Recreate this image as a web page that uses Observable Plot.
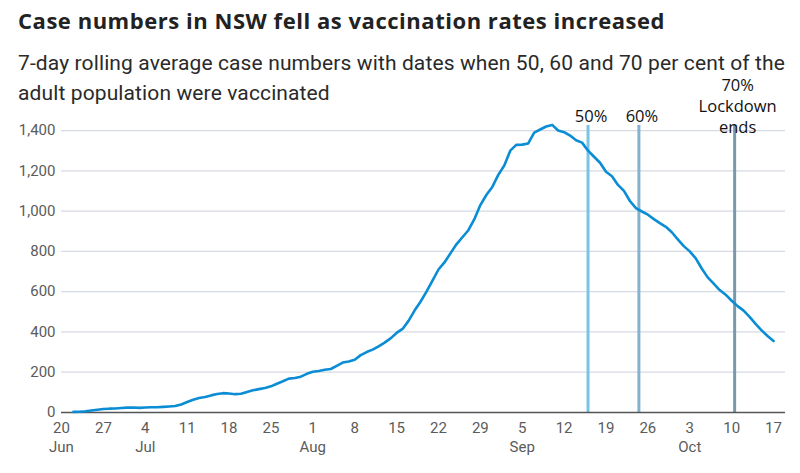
<!DOCTYPE html>
<html>
<head>
<meta charset="utf-8">
<script src="https://cdn.jsdelivr.net/npm/d3@7"></script>
<script src="https://cdn.jsdelivr.net/npm/@observablehq/plot@0.6"></script>
<style>
  html, body { margin: 0; padding: 0; background: #fff; }
  #wrap { position: relative; width: 800px; height: 473px; overflow: hidden; }
  #head { position: absolute; left: 18px; top: 0; z-index: 2; pointer-events: none; }
  #title { position: absolute; top: 6px; left: 0; white-space: nowrap; font-family: 'Open Sans', sans-serif; font-weight: 700; font-size: 22px; line-height: 28px; color: #222; }
  #sub { position: absolute; top: 48px; left: 0; font-family: Roboto, sans-serif; font-size: 21px; line-height: 30px; color: #2a2a2a; }
  #sub span { display: inline-block; white-space: nowrap; }
  #chart { position: absolute; left: 0; top: 60px; }
</style>
</head>
<body>
<div id="wrap">
  <div id="head">
    <div id="title"><span id="t1">Case numbers in NSW fell as vaccination rates increased</span></div>
    <div id="sub"><span id="s1">7-day rolling average case numbers with dates when 50, 60 and 70 per cent of the</span><br><span id="s2">adult population were vaccinated</span></div>
  </div>
  <div id="chart"></div>
</div>
<script>
// 7-day rolling average, one value per day starting 22 June 2021
const startDate = "2021-06-22";
const cases = [
  3, 4, 6, 10, 14, 17, 19, 20, 22,            // Jun 22-30
  24, 25, 23, 25, 26, 26, 28, 30, 32, 40,     // Jul 1-10
  52, 63, 72, 77, 85, 92, 96, 94, 91, 93,     // Jul 11-20
  102, 110, 116, 122, 130, 143, 155, 168, 171, 178, 192, // Jul 21-31
  202, 206, 212, 216, 232, 248, 253, 262, 285, 300,      // Aug 1-10
  312, 328, 347, 368, 395, 415, 455, 506, 550, 600,      // Aug 11-20
  655, 710, 745, 790, 835, 870, 905, 960, 1030, 1080, 1120, // Aug 21-31
  1180, 1226, 1300, 1329, 1330, 1336, 1390, 1405, 1420, 1428, // Sep 1-10
  1400, 1392, 1375, 1352, 1340, 1300, 1270, 1240, 1195, 1173, // Sep 11-20
  1130, 1100, 1050, 1015, 998, 982, 960, 940, 922, 895,       // Sep 21-30
  860, 826, 800, 765, 715, 671, 640, 608, 585, 555,           // Oct 1-10
  528, 506, 475, 440, 408, 380, 355                           // Oct 11-17
];
const markerDates = ["2021-09-16T00:00Z", "2021-09-24T12:00Z", "2021-10-10T12:00Z"];
const markerLabels = ["50%", "60%", "70%\nLockdown\nends"];
const markerColors = ["#78c4e6", "#84b2cd", "#7898ad"];
const yTicks = [0, 200, 400, 600, 800, 1000, 1200, 1400];
const xTickDates = ["2021-06-20","2021-06-27","2021-07-04","2021-07-11","2021-07-18","2021-07-25",
  "2021-08-01","2021-08-08","2021-08-15","2021-08-22","2021-08-29","2021-09-05","2021-09-12",
  "2021-09-19","2021-09-26","2021-10-03","2021-10-10","2021-10-17"];
const monthLabelDates = ["2021-06-20","2021-07-04","2021-08-01","2021-09-05","2021-10-03"];
const xDomain = ["2021-06-20", "2021-10-19"];

const parse = d3.utcParse("%Y-%m-%d");
const s0 = parse(startDate);
const data = cases.map((v, i) => ({date: d3.utcDay.offset(s0, i), value: v}));
const markers = markerDates.map((d, i) => ({date: new Date(d), label: markerLabels[i], color: markerColors[i]}));
const xTicks = xTickDates.map(parse);
const monthSet = new Set(monthLabelDates);
const fmtDay = d3.utcFormat("%-d");
const fmtMon = d3.utcFormat("%b");
const fmtKey = d3.utcFormat("%Y-%m-%d");

const labelFont = {fontSize: 16.5, fill: "#111", fontFamily: "'Open Sans', sans-serif", lineHeight: 1.28};

const chart = Plot.plot({
  width: 800,
  height: 413,
  marginTop: 65,
  marginBottom: 61,
  marginLeft: 61,
  marginRight: 15,
  style: {fontFamily: "Roboto, sans-serif", fontSize: "15px", color: "#5b5b5b", background: "transparent"},
  x: {type: "utc", domain: xDomain.map(parse)},
  y: {domain: [0, 1425]},
  marks: [
    Plot.gridY(yTicks.filter(d => d > 0), {stroke: "#d6dae2", strokeOpacity: 1, strokeWidth: 1.2}),
    Plot.axisY(yTicks, {tickSize: 0, tickPadding: 6, tickFormat: d3.format(","), label: null, fontSize: 15}),
    Plot.axisX(xTicks, {tickSize: 0, tickPadding: 7, label: null, fontSize: 15, lineHeight: 1.27,
      tickFormat: d => fmtDay(d) + (monthSet.has(fmtKey(d)) ? "\n" + fmtMon(d) : "")}),
    Plot.ruleX(markers, {x: "date", stroke: "color", strokeWidth: 3}),
    Plot.ruleY([0], {stroke: "#555", strokeWidth: 1.5}),
    Plot.line(data, {x: "date", y: "value", stroke: "#0a8dd4", strokeWidth: 2.6, curve: "linear"}),
    Plot.text(markers.slice(0, 2), {x: "date", frameAnchor: "top", text: "label", dx: 3, dy: -10,
      lineAnchor: "middle", ...labelFont}),
    Plot.text(markers.slice(2), {x: "date", frameAnchor: "top", text: "label", dx: 3, dy: -20,
      lineAnchor: "middle", ...labelFont})
  ]
});
document.getElementById("chart").appendChild(chart);

function fit(id, target) {
  const el = document.getElementById(id);
  const w = el.getBoundingClientRect().width;
  const n = el.textContent.length;
  el.style.letterSpacing = ((target - w) / n) + "px";
}
fit("t1", 647);
fit("s1", 767);
const s1ls = document.getElementById("s1").style.letterSpacing;
document.getElementById("s2").style.letterSpacing = s1ls;
</script>
</body>
</html>
